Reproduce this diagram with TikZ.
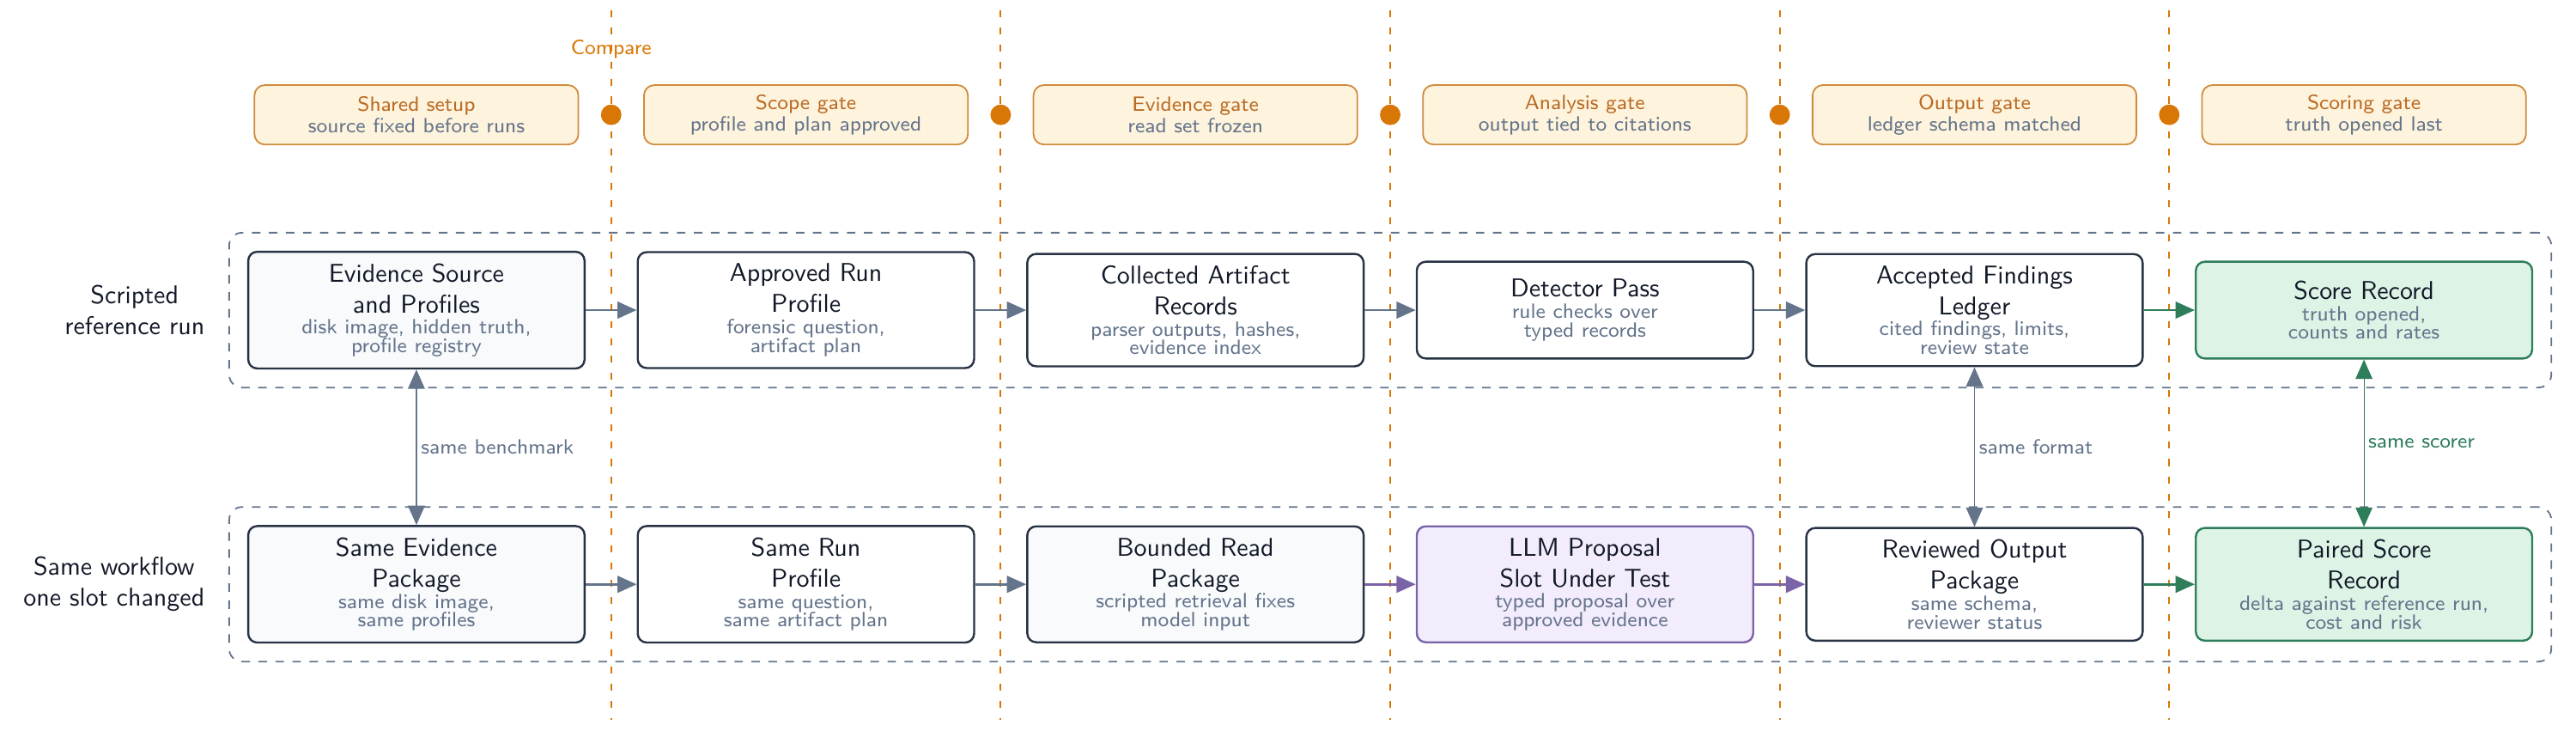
\documentclass[tikz,border=0pt]{standalone}
\usetikzlibrary{positioning,fit,calc,arrows.meta,backgrounds}
\renewcommand{\familydefault}{\sfdefault}

\definecolor{ink}{HTML}{111827}
\definecolor{boxline}{HTML}{273244}
\definecolor{subgray}{HTML}{64748B}
\definecolor{slate}{HTML}{64748B}
\definecolor{paper}{HTML}{F8FAFC}
\definecolor{gatefill}{HTML}{FEF3DC}
\definecolor{gateline}{HTML}{D08B3C}
\definecolor{gatetext}{HTML}{BA6B24}
\definecolor{amber}{HTML}{D97706}
\definecolor{llmfill}{HTML}{F3ECFD}
\definecolor{llmline}{HTML}{7B63A8}
\definecolor{scorefill}{HTML}{DCF3E6}
\definecolor{scoreline}{HTML}{2E7D5B}

\newcommand{\subtxt}[2]{\\[-3.7pt]{\footnotesize\color{subgray}#1}\\[-4.8pt]{\footnotesize\color{subgray}#2}}

\tikzset{
  stage/.style={draw=boxline, line width=0.8pt, rounded corners=3.5pt, fill=white,
    minimum width=4.59cm, minimum height=1.32cm, align=center, inner ysep=4.5pt, text=ink},
  srcstage/.style={stage, fill=paper},
  llmstage/.style={stage, draw=llmline, fill=llmfill},
  scorestage/.style={stage, draw=scoreline, fill=scorefill},
  gate/.style={draw=gateline, line width=0.6pt, fill=gatefill, rounded corners=4pt,
    minimum width=4.42cm, minimum height=0.81cm, align=center, font=\footnotesize, text=gatetext},
  group/.style={draw=slate, line width=0.6pt, dash pattern=on 3.3pt off 3.3pt,
    rounded corners=5pt, inner sep=7pt},
  rowlabel/.style={align=center, text=ink},
  divider/.style={draw=amber, line width=0.7pt, dash pattern=on 2.7pt off 4pt},
  gatedot/.style={circle, fill=amber, inner sep=0pt, minimum size=0.28cm},
  flow/.style={-{Triangle[length=7.5pt,width=6.5pt]}, line width=0.9pt, color=slate},
  llmflow/.style={flow, color=llmline},
  scoreflow/.style={flow, color=scoreline},
  link/.style={{Triangle[length=7.5pt,width=6.5pt]}-{Triangle[length=7.5pt,width=6.5pt]},
    line width=0.65pt, color=slate},
  linklabel/.style={right, inner sep=1.5pt, font=\footnotesize}
}

\begin{document}
\begin{tikzpicture}
  \useasboundingbox (0,0) rectangle (35.15,-9.96);

  % scripted reference run
  \node (ES) [srcstage] at (5.682,-4.23) {Evidence Source\\and Profiles\subtxt{disk image, hidden truth,}{profile registry}};
  \node (AR) [stage, right of=ES, node distance=5.315cm] {Approved Run\\Profile\subtxt{forensic question,}{artifact plan}};
  \node (CA) [stage, right of=AR, node distance=5.315cm] {Collected Artifact\\Records\subtxt{parser outputs, hashes,}{evidence index}};
  \node (DP) [stage, right of=CA, node distance=5.315cm] {Detector Pass\subtxt{rule checks over}{typed records}};
  \node (AF) [stage, right of=DP, node distance=5.315cm] {Accepted Findings\\Ledger\subtxt{cited findings, limits,}{review state}};
  \node (SR) [scorestage, right of=AF, node distance=5.315cm] {Score Record\subtxt{truth opened,}{counts and rates}};

  % same workflow, one slot changed
  \node (SE) [srcstage, below of=ES, node distance=3.74cm] {Same Evidence\\Package\subtxt{same disk image,}{same profiles}};
  \node (SP) [stage, right of=SE, node distance=5.315cm] {Same Run\\Profile\subtxt{same question,}{same artifact plan}};
  \node (BR) [srcstage, right of=SP, node distance=5.315cm] {Bounded Read\\Package\subtxt{scripted retrieval fixes}{model input}};
  \node (LP) [llmstage, right of=BR, node distance=5.315cm] {LLM Proposal\\Slot Under Test\subtxt{typed proposal over}{approved evidence}};
  \node (RO) [stage, right of=LP, node distance=5.315cm] {Reviewed Output\\Package\subtxt{same schema,}{reviewer status}};
  \node (PS) [scorestage, right of=RO, node distance=5.315cm] {Paired Score\\Record\subtxt{delta against reference run,}{cost and risk}};

  % gates
  \node (GS) [gate, above of=ES, node distance=2.664cm] {Shared setup\\[-1.2pt]{\color{subgray}source fixed before runs}};
  \node (GC) [gate, above of=AR, node distance=2.664cm] {Scope gate\\[-1.2pt]{\color{subgray}profile and plan approved}};
  \node (GE) [gate, above of=CA, node distance=2.664cm] {Evidence gate\\[-1.2pt]{\color{subgray}read set frozen}};
  \node (GA) [gate, above of=DP, node distance=2.664cm] {Analysis gate\\[-1.2pt]{\color{subgray}output tied to citations}};
  \node (GO) [gate, above of=AF, node distance=2.664cm] {Output gate\\[-1.2pt]{\color{subgray}ledger schema matched}};
  \node (GR) [gate, above of=SR, node distance=2.664cm] {Scoring gate\\[-1.2pt]{\color{subgray}truth opened last}};

  % run groups
  \node (TOP) [group, fit=(ES)(SR)] {};
  \node (BOT) [group, fit=(SE)(PS)] {};
  \node (TL) [rowlabel, left=0.2cm of TOP] {Scripted\\reference run};
  \node (BL) [rowlabel, left=0.2cm of BOT] {Same workflow\\one slot changed};

  % gate dividers
  \begin{scope}[on background layer]
    \foreach \a/\b [count=\i] in {ES/AR, AR/CA, CA/DP, DP/AF, AF/SR} {
      \coordinate (D\i) at ($(\a)!0.5!(\b)$);
      \draw[divider] (D\i |- 0,-0.14) -- (D\i |- 0,-9.82);
    }
  \end{scope}
  \foreach \a/\b [count=\i] in {GS/GC, GC/GE, GE/GA, GA/GO, GO/GR}
    \node (P\i) [gatedot] at ($(\a)!0.5!(\b)$) {};
  \node (CMP) [font=\footnotesize, text=amber] at (D1 |- 0,-0.67) {Compare};

  \path[flow] (ES) edge (AR)
              (AR) edge (CA)
              (CA) edge (DP)
              (DP) edge (AF)
              (SE) edge (SP)
              (SP) edge (BR);
  \path[llmflow] (BR) edge (LP)
                 (LP) edge (RO);
  \path[scoreflow] (AF) edge (SR)
                   (RO) edge (PS);

  \path[link] (ES) edge node[linklabel, text=slate] {same benchmark} (SE)
              (AF) edge node[linklabel, text=slate] {same format} (RO);
  \path[link, color=scoreline, line width=0.4pt] (SR) edge node[linklabel, text=scoreline] {same scorer} (PS);
\end{tikzpicture}
\end{document}
